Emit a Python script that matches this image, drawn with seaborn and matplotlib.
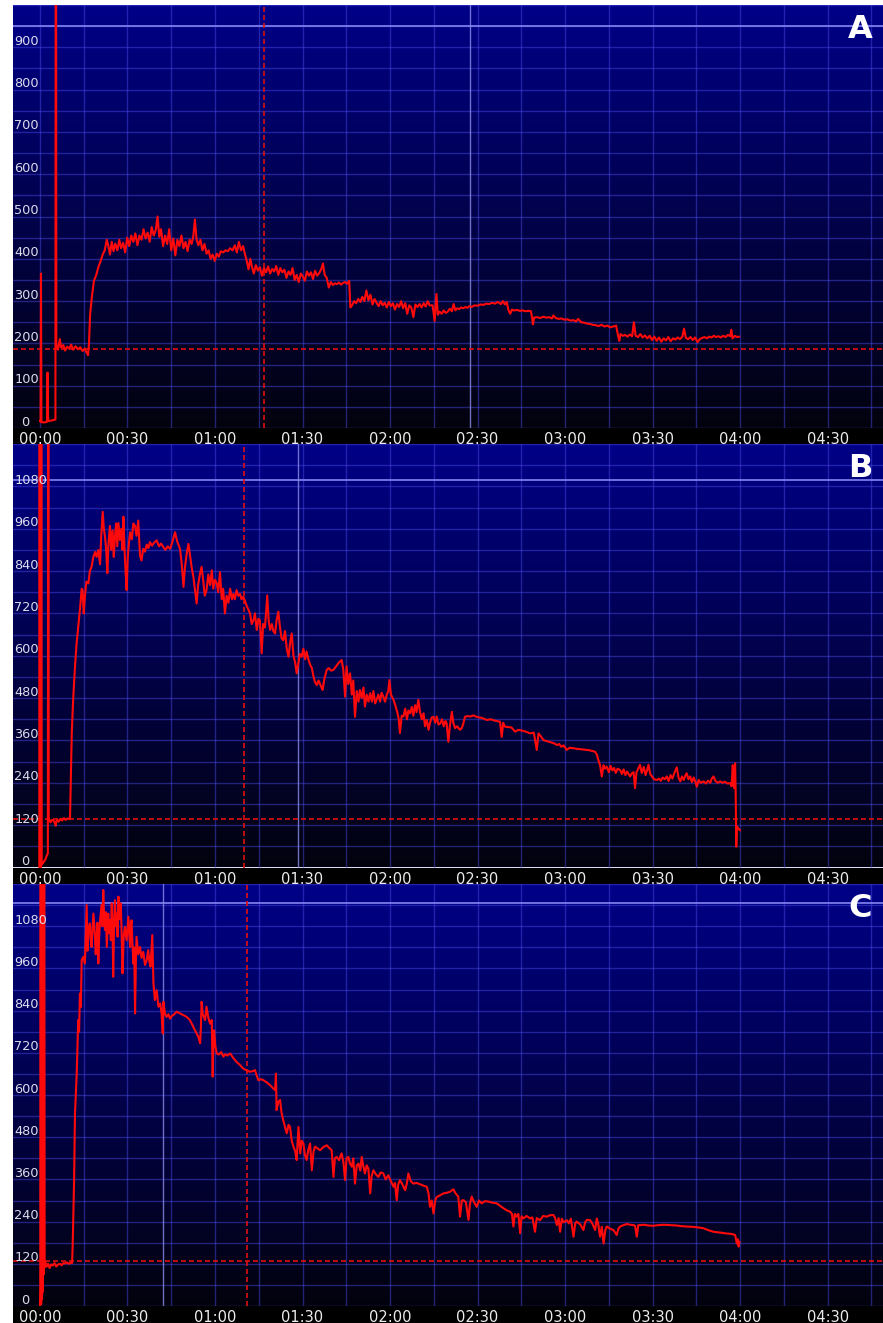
import numpy as np
import pandas as pd
import matplotlib
matplotlib.use("Agg")
import matplotlib.pyplot as plt
import matplotlib.transforms as mtrans
from matplotlib.patches import Rectangle
import seaborn as sns

# ---------------- data (minutes, value) ----------------
a_pts = [(0.0, 17), (0.2, 15), (0.34, 365), (0.5, 14), (1.5, 13), (2.4, 15), (2.6, 131), (2.8, 16), (4.0, 18), (5.3, 20), (5.45, 2500), (5.6, 199), (6.2, 185), (6.8, 210), (7.3, 190), (8.0, 196), (8.6, 183), (9.3, 192), (10.0, 188), (10.7, 197), (11.4, 185), (12.2, 193), (13.0, 186), (13.8, 191), (14.6, 182), (15.4, 188), (16.0, 178), (16.5, 172), (16.8, 200), (17.2, 270), (17.8, 310), (18.5, 348), (19.3, 362), (20.0, 380), (20.8, 395), (21.5, 410), (22.2, 420), (22.9, 445), (23.4, 432), (24.0, 410), (24.6, 440), (25.2, 418), (25.8, 436), (26.5, 420), (27.2, 445), (27.8, 425), (28.5, 438), (29.2, 415), (29.9, 450), (30.6, 430), (31.3, 455), (32.0, 440), (32.7, 460), (33.4, 432), (34.1, 455), (34.8, 445), (35.5, 470), (36.2, 448), (36.9, 462), (37.6, 440), (38.3, 475), (39.0, 455), (39.7, 468), (40.3, 500), (40.9, 452), (41.5, 470), (42.2, 430), (42.9, 455), (43.6, 435), (44.3, 470), (45.0, 420), (45.7, 448), (46.4, 408), (47.1, 445), (47.8, 430), (48.5, 455), (49.2, 425), (49.9, 440), (50.6, 418), (51.3, 445), (52.0, 435), (52.6, 455), (53.1, 493), (53.7, 445), (54.3, 432), (55.0, 445), (55.7, 420), (56.4, 435), (57.1, 412), (57.8, 420), (58.5, 400), (59.2, 410), (59.9, 395), (60.6, 412), (61.3, 405), (62.0, 418), (62.8, 415), (63.6, 420), (64.4, 418), (65.2, 425), (66.0, 420), (66.8, 432), (67.5, 415), (68.2, 440), (68.9, 420), (69.6, 430), (70.3, 410), (70.9, 395), (71.5, 375), (72.1, 400), (72.7, 380), (73.3, 365), (74.0, 385), (74.7, 372), (75.4, 380), (76.1, 360), (76.8, 378), (77.5, 368), (78.2, 382), (78.9, 365), (79.6, 376), (80.3, 370), (81.0, 383), (81.7, 362), (82.4, 378), (83.1, 368), (83.8, 374), (84.5, 355), (85.2, 370), (85.9, 362), (86.6, 378), (87.3, 350), (88.0, 362), (88.7, 345), (89.4, 365), (90.1, 358), (90.8, 348), (91.5, 370), (92.2, 360), (92.9, 368), (93.6, 352), (94.3, 372), (95.0, 360), (95.7, 366), (96.4, 375), (97.0, 389), (97.6, 362), (98.3, 355), (99.0, 332), (99.7, 345), (100.4, 338), (101.1, 342), (101.8, 340), (102.5, 344), (103.2, 339), (103.9, 343), (104.6, 345), (105.3, 341), (106.0, 348), (106.4, 285), (107.0, 290), (107.7, 300), (108.4, 295), (109.1, 305), (109.8, 298), (110.5, 310), (111.2, 300), (111.9, 325), (112.6, 302), (113.3, 315), (114.0, 292), (114.7, 305), (115.4, 296), (116.1, 288), (116.8, 300), (117.5, 290), (118.2, 296), (118.9, 285), (119.6, 298), (120.3, 288), (121.0, 295), (121.7, 280), (122.4, 293), (123.1, 286), (123.8, 300), (124.5, 283), (125.2, 295), (125.9, 270), (126.6, 290), (127.3, 285), (128.0, 262), (128.7, 292), (129.4, 286), (130.1, 293), (130.8, 285), (131.5, 295), (132.2, 287), (132.9, 300), (133.6, 290), (134.6, 290), (135.3, 253), (135.9, 317), (136.4, 268), (137.0, 275), (137.7, 270), (138.4, 278), (139.1, 272), (139.8, 275), (140.5, 282), (141.2, 276), (141.8, 293), (142.4, 278), (143.0, 283), (143.7, 281), (144.4, 285), (145.1, 283), (145.8, 286), (146.5, 284), (147.2, 288), (148.0, 286), (149.0, 290), (150.0, 289), (151.0, 292), (152.0, 291), (153.0, 294), (154.0, 293), (155.0, 296), (156.0, 294), (157.0, 298), (158.0, 293), (158.7, 300), (159.4, 292), (160.0, 298), (160.6, 279), (161.2, 270), (161.8, 280), (162.5, 278), (163.5, 279), (164.5, 277), (165.5, 278), (166.5, 276), (167.5, 277), (168.3, 276), (168.7, 261), (169.0, 245), (169.4, 261), (170.5, 262), (171.5, 260), (172.5, 263), (173.5, 261), (174.5, 262), (175.5, 259), (176.0, 266), (176.8, 260), (177.8, 258), (178.8, 259), (179.8, 256), (180.8, 257), (181.8, 254), (182.8, 255), (183.8, 252), (184.5, 258), (185.5, 250), (186.5, 249), (187.5, 247), (188.5, 246), (189.5, 244), (190.5, 243), (191.5, 241), (192.5, 244), (193.5, 240), (194.5, 242), (195.5, 238), (196.5, 240), (197.5, 242), (198.2, 218), (198.6, 206), (199.0, 222), (199.8, 218), (200.6, 220), (201.4, 216), (202.2, 221), (203.0, 217), (203.6, 250), (204.2, 218), (205.0, 215), (205.8, 222), (206.6, 214), (207.4, 219), (208.2, 212), (209.0, 218), (209.8, 208), (210.6, 216), (211.4, 206), (212.2, 214), (213.0, 204), (213.8, 212), (214.6, 207), (215.4, 215), (216.2, 205), (217.0, 212), (217.8, 209), (218.6, 214), (219.4, 210), (220.2, 216), (220.8, 235), (221.4, 213), (222.2, 210), (223.0, 215), (223.8, 208), (224.6, 214), (225.4, 203), (226.2, 210), (227.0, 213), (227.8, 215), (228.6, 212), (229.4, 216), (230.2, 214), (231.0, 218), (231.8, 215), (232.6, 217), (233.4, 214), (234.2, 218), (235.0, 215), (235.8, 220), (236.6, 217), (237.0, 232), (237.4, 212), (238.2, 218), (239.0, 215), (239.7, 216)]

b_pts = [(-0.2, 0), (-0.1, 2000), (0.0, 5), (0.15, 830), (0.3, 0), (0.45, 2000), (0.6, 8), (1.2, 15), (1.8, 22), (2.4, 35), (2.7, 40), (2.85, 2000), (3.0, 140), (3.6, 128), (4.2, 135), (4.8, 132), (5.4, 118), (5.8, 136), (6.4, 130), (7.0, 138), (7.6, 133), (8.2, 140), (8.8, 135), (9.4, 139), (10.0, 137), (10.3, 140), (10.6, 260), (10.9, 381), (11.4, 480), (12.0, 568), (12.5, 630), (13.1, 681), (13.8, 740), (14.3, 790), (14.6, 786), (15.0, 720), (15.4, 767), (15.9, 810), (16.6, 805), (17.1, 840), (17.7, 852), (18.3, 880), (18.9, 894), (19.4, 880), (20.0, 900), (20.3, 880), (20.6, 859), (21.0, 940), (21.5, 1008), (21.9, 960), (22.3, 937), (22.7, 900), (23.1, 834), (23.5, 920), (24.0, 968), (24.4, 900), (24.9, 955), (25.3, 880), (25.7, 937), (26.1, 975), (26.5, 910), (26.9, 976), (27.4, 928), (27.9, 960), (28.3, 900), (28.6, 994), (29.0, 900), (29.4, 830), (29.7, 786), (30.1, 880), (30.5, 920), (30.9, 950), (31.5, 930), (32.0, 975), (32.6, 968), (33.1, 940), (33.7, 983), (34.0, 930), (34.3, 884), (34.8, 870), (35.4, 903), (36.0, 895), (36.6, 915), (37.2, 905), (37.7, 922), (38.4, 912), (39.1, 920), (40.0, 927), (40.8, 910), (41.5, 918), (42.3, 908), (43.0, 900), (43.8, 910), (44.6, 903), (45.3, 920), (46.3, 950), (47.0, 925), (48.0, 903), (48.6, 860), (49.2, 795), (49.7, 850), (50.3, 890), (50.9, 917), (51.5, 880), (52.0, 850), (52.6, 823), (53.1, 790), (53.7, 748), (54.2, 800), (54.8, 830), (55.4, 852), (56.0, 810), (56.5, 770), (57.1, 786), (57.7, 830), (58.3, 800), (58.9, 842), (59.4, 790), (60.0, 815), (60.6, 805), (61.1, 780), (61.7, 837), (62.3, 760), (62.8, 790), (63.4, 720), (64.0, 770), (64.6, 750), (65.2, 790), (65.8, 760), (66.3, 775), (66.8, 760), (67.4, 786), (68.0, 770), (68.6, 775), (69.1, 760), (69.7, 767), (70.3, 755), (70.9, 740), (71.5, 730), (72.0, 720), (72.6, 690), (73.2, 701), (73.7, 720), (74.3, 673), (74.9, 705), (75.4, 700), (76.0, 607), (76.5, 690), (77.1, 680), (77.5, 720), (77.9, 771), (78.4, 700), (78.9, 673), (79.5, 690), (80.0, 670), (80.6, 663), (81.1, 700), (81.7, 725), (82.3, 680), (82.8, 650), (83.4, 644), (84.0, 670), (84.6, 620), (85.2, 597), (85.8, 640), (86.3, 663), (86.9, 600), (87.5, 580), (88.0, 550), (88.6, 580), (89.1, 605), (89.7, 597), (90.3, 620), (90.9, 590), (91.4, 612), (92.0, 590), (92.6, 575), (93.2, 565), (93.8, 540), (94.3, 525), (94.9, 517), (95.5, 530), (96.0, 520), (96.9, 503), (97.5, 535), (98.3, 560), (99.0, 565), (99.8, 558), (100.6, 560), (101.5, 570), (102.4, 580), (103.4, 588), (104.0, 560), (104.6, 484), (105.1, 570), (105.7, 520), (106.3, 550), (106.9, 490), (107.4, 530), (108.0, 427), (108.6, 500), (109.2, 470), (109.7, 503), (110.3, 480), (110.9, 510), (111.4, 456), (112.0, 490), (112.6, 470), (113.2, 494), (113.8, 470), (114.3, 500), (114.9, 465), (115.4, 475), (116.0, 490), (116.6, 470), (117.1, 495), (117.7, 484), (118.3, 470), (118.9, 490), (119.4, 500), (119.8, 531), (120.3, 490), (121.2, 475), (121.8, 460), (122.5, 440), (123.0, 420), (123.4, 381), (124.0, 430), (124.6, 428), (125.2, 450), (125.8, 420), (126.3, 445), (126.9, 437), (127.5, 455), (128.0, 430), (128.6, 460), (129.1, 440), (129.7, 475), (130.3, 440), (130.9, 420), (131.5, 437), (132.0, 400), (132.6, 418), (133.2, 390), (133.7, 410), (134.3, 425), (134.9, 427), (135.5, 410), (136.0, 428), (136.6, 405), (137.2, 408), (137.8, 420), (138.4, 400), (139.0, 415), (139.4, 409), (140.0, 356), (140.5, 400), (141.2, 441), (141.7, 410), (142.3, 395), (143.0, 400), (144.0, 390), (144.6, 395), (145.2, 410), (145.7, 427), (146.5, 429), (147.5, 428), (148.6, 431), (150.0, 426), (151.5, 424), (153.2, 418), (154.5, 420), (156.0, 416), (157.7, 413), (158.3, 370), (158.8, 410), (159.4, 399), (160.5, 398), (161.6, 397), (162.9, 385), (164.0, 390), (165.2, 388), (166.5, 385), (168.0, 380), (169.3, 382), (170.3, 333), (170.9, 380), (171.7, 372), (172.6, 361), (173.8, 358), (175.0, 355), (176.2, 352), (177.2, 347), (178.0, 350), (178.7, 342), (179.5, 346), (180.6, 333), (181.5, 339), (182.9, 338), (184.2, 336), (185.5, 335), (187.4, 333), (188.5, 332), (190.3, 328), (190.9, 320), (191.4, 305), (192.0, 290), (192.6, 258), (193.2, 290), (193.7, 280), (194.3, 286), (195.0, 270), (195.6, 288), (196.2, 275), (196.8, 282), (197.4, 268), (198.0, 280), (198.9, 276), (199.5, 265), (200.1, 278), (200.7, 262), (201.3, 272), (202.3, 258), (203.0, 268), (203.5, 270), (204.0, 225), (204.5, 270), (205.1, 280), (205.7, 291), (206.3, 268), (207.0, 285), (207.6, 262), (208.1, 275), (208.6, 291), (209.2, 265), (209.8, 258), (210.5, 250), (211.5, 248), (212.2, 252), (212.8, 246), (213.5, 255), (214.2, 250), (214.9, 258), (215.5, 245), (216.2, 262), (216.8, 252), (217.5, 268), (218.3, 284), (218.9, 255), (219.5, 244), (220.1, 258), (220.7, 248), (221.3, 262), (221.7, 267), (222.3, 250), (222.9, 258), (223.5, 242), (224.1, 255), (224.6, 245), (225.2, 229), (225.8, 248), (226.5, 240), (227.5, 244), (228.3, 238), (229.0, 246), (229.8, 240), (230.3, 252), (230.9, 258), (231.5, 246), (232.3, 240), (233.2, 244), (234.0, 240), (234.8, 243), (235.7, 238), (236.6, 239), (237.1, 230), (237.5, 290), (237.8, 232), (238.0, 225), (238.3, 295), (238.5, 210), (238.7, 59), (238.9, 116), (239.5, 110), (240.0, 105)]

c_pts = [(0.0, 0), (0.1, 60), (0.25, 2000), (0.4, 5), (0.55, 2000), (0.7, 20), (0.85, 2000), (1.0, 40), (1.15, 2000), (1.3, 90), (1.45, 2000), (1.6, 110), (1.8, 125), (2.3, 112), (2.8, 120), (3.3, 108), (3.8, 118), (4.4, 115), (5.0, 122), (5.6, 112), (6.2, 118), (6.8, 120), (7.4, 116), (8.0, 122), (8.6, 121), (9.2, 124), (9.8, 120), (10.4, 123), (11.0, 122), (11.2, 168), (11.7, 358), (12.0, 547), (12.6, 661), (13.1, 813), (13.4, 780), (13.7, 889), (14.0, 850), (14.3, 983), (14.9, 993), (15.4, 974), (15.7, 1060), (16.0, 1140), (16.3, 1010), (16.6, 1069), (17.1, 1088), (17.4, 1040), (17.7, 1021), (18.0, 1070), (18.3, 1116), (18.8, 1060), (19.1, 1000), (19.4, 1040), (19.7, 1090), (20.0, 974), (20.3, 1050), (20.6, 1097), (21.1, 1140), (21.4, 1080), (21.7, 1183), (22.0, 1100), (22.3, 1069), (22.6, 1120), (22.9, 1021), (23.2, 1080), (23.4, 1116), (23.7, 1060), (24.0, 1097), (24.3, 1040), (24.6, 1145), (24.9, 1060), (25.1, 936), (25.4, 1080), (25.7, 1154), (26.0, 1080), (26.3, 1116), (26.6, 1050), (26.9, 1164), (27.2, 1100), (27.7, 1145), (28.0, 1060), (28.3, 946), (28.7, 1050), (29.1, 1078), (29.7, 1040), (30.3, 1107), (30.6, 1060), (30.9, 1021), (31.1, 1080), (31.4, 1097), (31.7, 1030), (32.0, 974), (32.3, 1020), (32.6, 832), (32.9, 990), (33.1, 1050), (33.7, 1000), (34.3, 1021), (34.8, 990), (35.4, 1007), (36.0, 970), (36.6, 983), (37.1, 1012), (37.5, 980), (37.9, 965), (38.5, 1055), (38.9, 917), (39.4, 870), (40.0, 898), (40.6, 851), (41.2, 860), (41.7, 832), (42.1, 775), (42.3, 865), (42.9, 830), (43.4, 822), (44.0, 830), (44.6, 817), (45.2, 825), (45.8, 828), (46.9, 837), (48.0, 832), (49.2, 827), (50.3, 822), (51.4, 813), (52.5, 795), (53.7, 775), (54.3, 765), (54.9, 747), (55.2, 800), (55.4, 865), (55.8, 830), (56.6, 813), (57.1, 851), (57.7, 820), (58.3, 803), (58.9, 813), (59.2, 652), (59.5, 760), (59.7, 784), (60.1, 740), (60.6, 718), (61.3, 715), (62.1, 722), (62.9, 709), (63.5, 716), (64.2, 712), (65.2, 718), (66.3, 705), (67.4, 694), (68.5, 686), (69.7, 675), (70.8, 670), (72.0, 666), (73.0, 668), (73.7, 671), (74.3, 655), (74.9, 642), (75.8, 645), (76.6, 642), (77.7, 636), (78.9, 628), (79.8, 620), (80.6, 614), (80.9, 661), (81.1, 557), (81.7, 580), (82.3, 586), (82.8, 550), (83.4, 528), (84.0, 510), (84.6, 491), (85.2, 515), (85.7, 510), (86.3, 470), (86.9, 453), (87.5, 440), (88.0, 415), (88.6, 509), (89.2, 434), (89.7, 470), (90.3, 462), (90.8, 430), (91.4, 415), (92.0, 445), (92.6, 462), (93.2, 386), (93.8, 440), (94.3, 453), (95.2, 448), (96.0, 443), (97.2, 452), (98.3, 457), (99.1, 450), (100.0, 443), (100.6, 367), (101.1, 420), (101.7, 424), (102.5, 415), (103.4, 434), (104.0, 410), (104.6, 358), (105.1, 420), (105.7, 424), (106.3, 405), (106.9, 396), (107.4, 420), (108.0, 348), (108.6, 400), (109.2, 405), (109.8, 385), (110.3, 424), (110.9, 395), (111.4, 377), (112.0, 400), (112.6, 390), (113.2, 320), (113.7, 370), (114.3, 386), (115.1, 375), (116.0, 367), (116.8, 380), (117.7, 377), (118.5, 360), (119.4, 372), (120.3, 355), (121.2, 339), (121.7, 350), (122.3, 301), (122.8, 345), (123.4, 358), (124.3, 345), (125.2, 329), (125.8, 350), (126.3, 377), (127.1, 355), (128.0, 348), (129.1, 350), (130.3, 346), (131.5, 342), (132.6, 339), (133.2, 320), (133.7, 282), (134.3, 300), (134.9, 263), (135.5, 300), (136.0, 310), (137.2, 315), (138.3, 320), (139.5, 322), (140.6, 325), (141.7, 332), (142.5, 320), (143.4, 311), (144.0, 254), (144.6, 300), (145.2, 301), (146.0, 295), (146.9, 245), (147.4, 290), (148.0, 311), (148.8, 295), (149.7, 282), (150.5, 300), (151.4, 292), (152.5, 298), (153.7, 297), (155.0, 294), (156.6, 292), (157.7, 285), (158.9, 278), (160.0, 272), (161.2, 268), (161.8, 262), (162.3, 226), (162.8, 262), (163.4, 254), (164.0, 262), (164.6, 207), (165.1, 255), (165.7, 249), (166.8, 256), (168.0, 249), (168.8, 252), (169.7, 211), (170.3, 250), (171.4, 244), (172.5, 256), (173.7, 254), (174.8, 258), (176.0, 259), (176.6, 250), (177.2, 230), (177.8, 250), (178.3, 211), (178.9, 248), (179.5, 238), (180.6, 244), (181.3, 235), (182.0, 248), (182.9, 197), (183.5, 235), (184.0, 240), (185.2, 232), (186.3, 216), (186.9, 238), (187.5, 245), (188.6, 244), (189.5, 232), (190.3, 216), (190.9, 249), (191.4, 232), (192.0, 197), (192.6, 225), (193.2, 178), (193.8, 215), (194.3, 226), (195.4, 220), (196.6, 216), (197.7, 202), (198.3, 220), (198.9, 226), (200.0, 230), (201.2, 233), (202.3, 231), (203.5, 230), (204.0, 228), (204.6, 197), (205.1, 230), (205.7, 230), (207.0, 231), (208.5, 229), (210.3, 228), (212.0, 230), (214.0, 231), (216.0, 230), (218.0, 229), (220.0, 227), (221.7, 226), (224.0, 225), (226.0, 223), (227.5, 221), (229.0, 216), (230.9, 211), (233.0, 209), (235.5, 206), (237.0, 205), (238.3, 202), (238.9, 178), (239.2, 190), (239.5, 169), (239.8, 183)]

a_minutes = [p[0] for p in a_pts]
a_values = [p[1] for p in a_pts]
b_minutes = [p[0] for p in b_pts]
b_values = [p[1] for p in b_pts]
c_minutes = [p[0] for p in c_pts]
c_values = [p[1] for p in c_pts]

panel_letters = ["A", "B", "C"]
threshold_values = [187, 137, 128]        # red dashed horizontal
event_minutes = [76.9, 70.0, 71.1]        # red dashed vertical
marker_minutes = [147.4, 88.6, 42.3]      # light vertical line
max_values = [950, 1097, 1145]            # light horizontal line
y_max = [1000, 1200, 1200]
y_grid_step = [50, 60, 60]
y_label_values = [list(range(0, 901, 100)), list(range(0, 1081, 120)), list(range(0, 1081, 120))]
x_tick_minutes = list(range(0, 271, 30))
x_tick_labels = ["00:00", "00:30", "01:00", "01:30", "02:00", "02:30",
                 "03:00", "03:30", "04:00", "04:30"]

# ---------------- figure ----------------
sns.set_theme(style="dark")
plt.rcParams['font.family'] = ['DejaVu Sans']

W, H = 883, 1323
fig = plt.figure(figsize=(W / 100, H / 100), dpi=100, facecolor="white")

left_px = 12.7
layout = [(5, 428, 444), (444, 867.5, 884), (884, 1306, 1323)]  # top, bottom, strip bottom
series = [(a_minutes, a_values), (b_minutes, b_values), (c_minutes, c_values)]

top_col = np.array([0.0, 0.0, 0.53])
bot_col = np.array([0.01, 0.01, 0.055])
g = np.linspace(0, 1, 256)[:, None, None]
grad_img = top_col[None, None, :] * (1 - g) + bot_col[None, None, :] * g

for i in range(3):
    top, bot, sbot = layout[i]
    ax = fig.add_axes([left_px / W, 1 - bot / H, 1 - left_px / W, (bot - top) / H])
    fig.add_artist(Rectangle((left_px / W, 1 - sbot / H), 1 - left_px / W, (sbot - bot) / H,
                             transform=fig.transFigure, facecolor="black",
                             edgecolor="none", zorder=-1))
    ax.imshow(grad_img, extent=[0, 1, 0, 1], transform=ax.transAxes,
              aspect="auto", zorder=0, interpolation="bilinear")

    t, v = series[i]
    df = pd.DataFrame({"minute": t, "value": v})

    ax.axhline(max_values[i], color=(0.52, 0.52, 0.95), lw=1.2, zorder=1.5)
    ax.axvline(marker_minutes[i], color=(0.55, 0.55, 0.92), lw=1.0, alpha=0.8, zorder=1.5)

    sns.lineplot(data=df, x="minute", y="value", ax=ax, color="#ff0a0a",
                 linewidth=1.5, estimator=None, sort=False, legend=False, zorder=3)

    ax.axhline(threshold_values[i], color="#e01010", lw=1.2, ls=(0, (3.0, 1.8)), zorder=2.5)
    ax.axvline(event_minutes[i], color="#e01010", lw=1.2, ls=(0, (3.0, 1.8)), zorder=2.5)

    ax.set_xlim(-9.35, 289.0)
    ax.set_ylim(0, y_max[i])
    ax.set_xticks(x_tick_minutes)
    ax.set_xticklabels(x_tick_labels)
    ax.set_xticks(np.arange(15, 290, 30), minor=True)
    ax.set_yticks(np.arange(0, y_max[i] + 1, y_grid_step[i]))
    ax.tick_params(axis="y", which="both", length=0, labelleft=False)
    ax.tick_params(axis="x", which="both", length=0, pad=3.2, labelsize=10.5,
                   labelcolor="#ececec")
    ax.grid(True, which="both", color=(0.30, 0.30, 0.92), alpha=0.45, lw=1.0)
    ax.set_axisbelow(True)
    for s in ax.spines.values():
        s.set_visible(False)
    ax.set_xlabel("")
    ax.set_ylabel("")

    trans = mtrans.blended_transform_factory(ax.transAxes, ax.transData)
    for yv in y_label_values[i]:
        lab = str(yv)
        xpx = 21.0 if lab == "0" else 14.3
        ax.annotate(lab, xy=((xpx - left_px) / (W - left_px), yv), xycoords=trans,
                    xytext=(0, 4.3), textcoords="offset points", ha="left", va="center",
                    fontsize=9.3, color="#dcdcec", annotation_clip=False, zorder=4)

    ax.text(0.9736, 1 - 24.5 / (bot - top), panel_letters[i], transform=ax.transAxes,
            ha="center", va="center", fontsize=23, fontweight="bold", color="white",
            zorder=5)

fig.savefig("out.png", dpi=100, facecolor="white")
